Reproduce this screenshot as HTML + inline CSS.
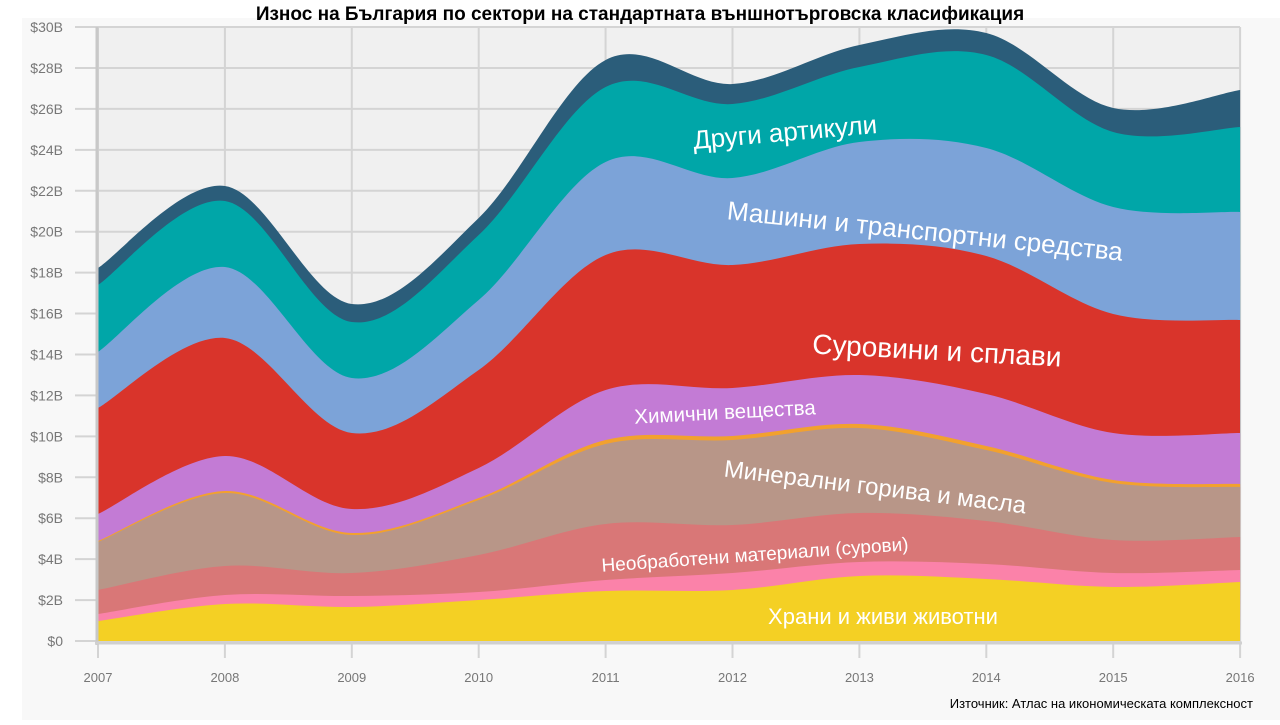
<!DOCTYPE html>
<html><head><meta charset="utf-8">
<style>
html,body{margin:0;padding:0;background:#fff;}
body{width:1280px;height:720px;overflow:hidden;font-family:"Liberation Sans","DejaVu Sans",sans-serif;}
</style></head>
<body>
<svg id="s" width="1280" height="720" xmlns="http://www.w3.org/2000/svg">
<rect x="22" y="18" width="1258" height="702" fill="#f8f8f8"/>
<rect x="97" y="27" width="1143" height="616" fill="#f0f0f0"/>
<g id="grid"></g>
<g id="areas"></g>
<line x1="97" y1="27" x2="97" y2="645" stroke="#c8c8c8" stroke-width="3"/>
<line x1="95" y1="643" x2="1242" y2="643" stroke="#d0d0d0" stroke-width="3"/>
<g id="labels" font-family="Liberation Sans, DejaVu Sans, sans-serif" fill="#777" font-size="14"></g>
<text x="640" y="20" text-anchor="middle" font-size="19" font-weight="bold" fill="#000">Износ на България по сектори на стандартната външнотърговска класификация</text>
<g fill="#fff" font-family="Liberation Sans, DejaVu Sans, sans-serif">
<text x="785" y="141" font-size="26" text-anchor="middle" transform="rotate(-5 785 132)">Други артикули</text>
<text x="925" y="240" font-size="26" text-anchor="middle" transform="rotate(6 925 232)">Машини и транспортни средства</text>
<text x="937" y="360" font-size="28" text-anchor="middle" transform="rotate(3 937 350)">Суровини и сплави</text>
<text x="725" y="419" font-size="20.5" text-anchor="middle" transform="rotate(-3 725 412)">Химични вещества</text>
<text x="875" y="495" font-size="24" text-anchor="middle" transform="rotate(7 875 488)">Минерални горива и масла</text>
<text x="755" y="561" font-size="19" text-anchor="middle" transform="rotate(-4 755 555)">Необработени  материали (сурови)</text>
<text x="883" y="624" font-size="22" text-anchor="middle">Храни и живи животни</text>
</g>
<text x="1253" y="708" text-anchor="end" font-size="13" fill="#000">Източник: Атлас на икономическата комплексност</text>
</svg>
<script>
var NS="http://www.w3.org/2000/svg";
var xs=[];for(var i=0;i<10;i++)xs.push(98+i*126.9);
var layers=[
["#2b5d7a",[268,186,304,218,60,84,45,33,108,90]],
["#00a6a8",[285,201,322,235,87,104,67,55,132,127]],
["#7ca3d8",[352,267,378,300,162,178,142,148,207,212]],
["#d9342b",[408,338,433,370,255,265,244,256,314,320]],
["#c37bd5",[514,456,509,468,390,388,375,394,433,433]],
["#f2a12e",[541,491,533,498,440,436,424,446,480,484]],
["#b89688",[542,493,535,500,444,440,428,450,483,487]],
["#d97777",[590,566,573,555,524,525,513,521,540,537]],
["#fb82a9",[614,595,596,592,580,573,562,564,573,570]],
["#f4d024",[621,604,607,600,591,590,576,579,587,582]]
];
function path(ys){
 var d="M"+xs[0]+","+ys[0];
 for(var i=0;i<ys.length-1;i++){
  var x0=xs[Math.max(i-1,0)],y0=ys[Math.max(i-1,0)];
  var x1=xs[i],y1=ys[i],x2=xs[i+1],y2=ys[i+1];
  var x3=xs[Math.min(i+2,ys.length-1)],y3=ys[Math.min(i+2,ys.length-1)];
  var c1x=x1+(x2-x0)/6,c1y=y1+(y2-y0)/6,c2x=x2-(x3-x1)/6,c2y=y2-(y3-y1)/6;
  d+=" C"+c1x+","+c1y+" "+c2x+","+c2y+" "+x2+","+y2;
 }
 d+=" L1240,641 L98,641 Z";return d;
}
var g=document.getElementById("areas");
layers.forEach(function(l){var p=document.createElementNS(NS,"path");p.setAttribute("d",path(l[1]));p.setAttribute("fill",l[0]);g.appendChild(p);});
var gr=document.getElementById("grid"),lb=document.getElementById("labels");
for(var k=0;k<=15;k++){var y=641-k*40.93;
 var ln=document.createElementNS(NS,"line");ln.setAttribute("x1",75);ln.setAttribute("x2",1240);ln.setAttribute("y1",y);ln.setAttribute("y2",y);ln.setAttribute("stroke","#d4d4d4");ln.setAttribute("stroke-width","2");gr.appendChild(ln);
 var t=document.createElementNS(NS,"text");t.setAttribute("x",63);t.setAttribute("y",y+5);t.setAttribute("text-anchor","end");t.textContent=k==0?"$0":"$"+(k*2)+"B";lb.appendChild(t);}
for(var i=0;i<10;i++){var x=xs[i];
 var ln=document.createElementNS(NS,"line");ln.setAttribute("x1",x);ln.setAttribute("x2",x);ln.setAttribute("y1",27);ln.setAttribute("y2",658);ln.setAttribute("stroke","#d4d4d4");ln.setAttribute("stroke-width","2");gr.appendChild(ln);
 var t=document.createElementNS(NS,"text");t.setAttribute("x",x);t.setAttribute("y",682);t.setAttribute("text-anchor","middle");t.setAttribute("font-size","13");t.textContent=2007+i;lb.appendChild(t);}
</script>
</body></html>
